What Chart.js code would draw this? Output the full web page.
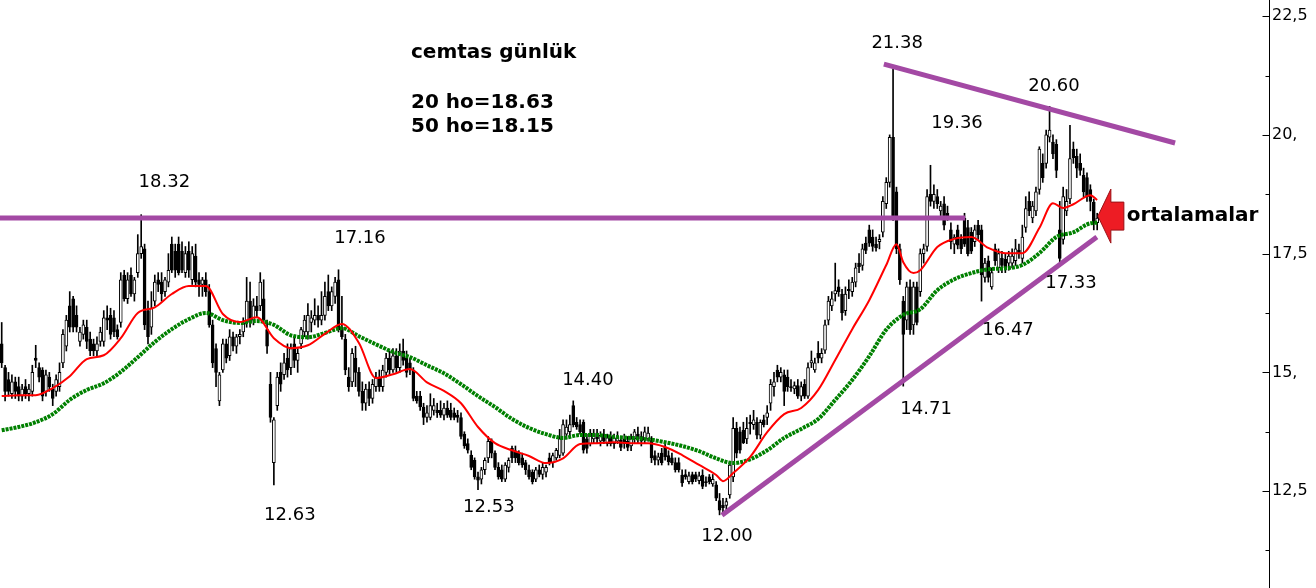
<!DOCTYPE html>
<html>
<head>
<meta charset="utf-8">
<title>cemtas günlük</title>
<script src="https://cdn.jsdelivr.net/npm/chart.js@4.4.1/dist/chart.umd.min.js"></script>
<style>
  html, body { margin: 0; padding: 0; background: #fff; overflow: hidden; }
  canvas { display: block; }
</style>
</head>
<body>
<canvas id="chart" width="1316" height="588"></canvas>
<script>
// ========== data ==========
// one row per day: [open, high, low, close]
const candles = [
  [15.6,16.05,15.1,15.2],[15.1,15.15,14.4,14.6],[14.85,15.0,14.5,14.6],[14.55,14.95,14.45,14.8],[14.8,14.9,14.45,14.6],
  [14.7,14.9,14.4,14.5],[14.5,14.75,14.4,14.65],[14.7,14.85,14.45,14.55],[14.55,14.75,14.4,14.65],[14.6,15.15,14.5,15.0],
  [15.3,15.57,15.1,15.25],[15.1,15.2,14.8,14.9],[15.05,15.1,14.4,14.5],[14.6,15.05,14.5,14.95],[14.9,15.0,14.6,14.7],
  [14.65,14.75,14.3,14.45],[14.6,14.95,14.5,14.85],[14.7,15.2,14.6,15.0],[15.2,15.9,15.1,15.8],[15.55,16.2,15.45,16.1],
  [16.4,16.7,15.85,15.95],[16.55,16.6,15.85,15.95],[16.2,16.4,15.85,15.95],[15.65,15.95,15.55,15.85],[15.8,16.1,15.7,16.0],
  [15.95,16.1,15.5,15.65],[15.7,15.85,15.35,15.45],[15.6,15.7,15.35,15.45],[15.45,15.75,15.35,15.6],[15.65,15.95,15.55,15.85],
  [15.65,16.3,15.55,16.15],[16.15,16.4,15.9,16.1],[16.2,16.35,15.7,15.8],[16.15,16.3,15.75,15.85],[15.9,16.0,15.7,15.75],
  [16.05,17.1,15.95,16.95],[17.05,17.15,16.5,16.55],[16.55,17.1,16.45,16.95],[17.05,17.2,16.6,16.65],[16.65,17.0,16.5,16.95],
  [17.1,17.9,17.0,17.5],[17.5,18.32,17.4,17.65],[17.6,17.7,15.9,16.0],[16.3,16.5,15.6,15.75],[15.95,16.7,15.8,16.35],
  [16.5,17.05,16.4,16.9],[16.95,17.1,16.7,16.85],[16.9,17.1,16.5,16.65],[16.7,17.0,16.6,16.95],[16.9,17.5,16.8,17.15],
  [17.7,17.85,17.1,17.15],[17.55,17.7,17.0,17.15],[17.7,17.85,17.05,17.1],[17.55,17.75,17.1,17.15],[17.1,17.65,17.0,17.5],
  [17.55,17.75,17.0,17.15],[16.95,17.65,16.85,17.5],[17.45,17.7,16.8,16.9],[16.95,17.1,16.6,16.85],[16.85,17.0,16.6,16.95],
  [16.95,17.1,16.6,16.7],[16.7,16.85,15.95,16.0],[16.0,16.1,15.1,15.2],[15.5,15.6,14.7,15.0],[14.4,15.0,14.3,14.95],
  [15.05,15.7,15.0,15.6],[15.6,15.7,15.2,15.3],[15.35,15.9,15.25,15.75],[15.75,15.85,15.45,15.55],[15.55,15.8,15.4,15.75],
  [15.75,15.9,15.6,15.8],[15.85,16.15,15.75,16.05],[16.05,17.0,15.95,16.5],[16.5,16.9,15.95,16.05],[16.1,16.55,16.0,16.4],
  [16.4,16.6,16.15,16.3],[16.4,17.1,16.3,16.9],[16.55,16.95,16.05,16.1],[15.9,16.1,15.4,15.55],[14.75,15.0,13.95,14.05],
  [13.1,14.05,12.63,14.0],[14.3,15.0,14.2,14.9],[15.0,15.2,14.6,14.75],[14.95,15.4,14.85,15.2],[15.3,15.6,14.9,15.05],
  [15.1,15.6,14.95,15.5],[15.6,15.75,15.1,15.25],[15.25,15.5,15.0,15.4],[15.6,15.95,15.5,15.9],[15.85,16.2,15.75,16.1],
  [15.85,16.45,15.7,16.2],[16.05,16.3,15.85,16.15],[16.1,16.55,16.0,16.2],[16.2,16.4,15.95,16.1],[16.1,16.7,16.0,16.2],
  [16.2,16.9,16.1,16.6],[16.7,17.05,16.3,16.4],[16.4,16.8,16.3,16.7],[16.6,17.0,16.45,16.9],[16.95,17.16,15.85,15.9],
  [15.95,16.6,15.7,15.75],[15.7,15.8,14.95,15.05],[14.9,15.1,14.6,14.7],[14.8,15.5,14.7,15.4],[15.3,15.55,14.7,15.0],
  [15.0,15.1,14.5,14.6],[14.6,14.8,14.2,14.35],[14.35,14.75,14.2,14.65],[14.65,14.8,14.3,14.45],[14.45,14.85,14.35,14.75],
  [14.7,15.0,14.6,14.9],[14.9,15.05,14.6,14.7],[14.7,15.15,14.6,15.05],[15.0,15.4,14.9,15.3],[15.3,15.45,14.95,15.05],
  [15.05,15.5,15.0,15.35],[15.35,15.5,15.0,15.1],[15.1,15.6,15.0,15.45],[15.45,15.7,15.15,15.25],[15.3,15.45,14.9,15.0],
  [15.2,15.3,14.95,15.05],[15.05,15.1,14.4,14.45],[14.5,14.6,14.35,14.4],[14.5,14.6,14.2,14.27],[14.27,14.35,13.9,14.05],
  [14.05,14.3,13.95,14.15],[14.05,14.55,14.0,14.3],[14.2,14.45,14.1,14.3],[14.2,14.35,14.05,14.15],[14.2,14.4,14.05,14.1],
  [14.1,14.35,14.0,14.25],[14.25,14.4,14.05,14.1],[14.2,14.35,14.0,14.05],[14.15,14.25,14.0,14.05],[14.1,14.2,13.95,14.05],
  [14.05,14.15,13.6,13.65],[13.7,13.75,13.4,13.45],[13.5,13.6,13.3,13.36],[13.26,13.35,12.95,13.0],[13.15,13.2,12.75,12.8],
  [12.8,12.9,12.53,12.73],[12.75,13.0,12.65,12.95],[12.95,13.2,12.85,13.15],[13.2,13.65,13.1,13.55],[13.55,13.6,13.2,13.3],
  [13.3,13.35,12.95,13.0],[13.0,13.1,12.75,12.8],[12.95,13.05,12.7,12.75],[12.75,13.1,12.7,13.05],[13.0,13.2,12.9,13.15],
  [13.4,13.45,13.1,13.2],[13.35,13.45,13.1,13.2],[13.3,13.35,13.05,13.1],[13.2,13.3,13.0,13.05],[13.1,13.15,12.85,12.95],
  [12.95,13.05,12.75,12.8],[12.9,12.95,12.65,12.7],[12.75,13.0,12.7,12.95],[12.95,13.05,12.8,12.85],[12.85,13.1,12.75,13.0],
  [12.9,13.05,12.8,13.0],[13.2,13.3,13.05,13.1],[13.1,13.3,13.0,13.25],[13.2,13.4,13.15,13.36],[13.25,13.8,13.2,13.6],
  [13.3,14.0,13.25,13.9],[13.7,14.0,13.6,13.85],[13.75,14.1,13.65,13.9],[14.3,14.4,13.85,13.9],[13.95,14.05,13.8,13.85],
  [13.9,14.0,13.7,13.75],[13.95,14.0,13.3,13.36],[13.6,13.7,13.3,13.4],[13.5,13.8,13.45,13.72],[13.6,13.8,13.5,13.7],
  [13.72,13.8,13.5,13.6],[13.55,13.75,13.45,13.68],[13.7,13.8,13.5,13.55],[13.5,13.7,13.45,13.62],[13.65,13.75,13.45,13.5],
  [13.5,13.7,13.4,13.62],[13.55,13.75,13.5,13.65],[13.57,13.65,13.35,13.42],[13.6,13.7,13.4,13.5],[13.55,13.65,13.35,13.42],
  [13.45,13.7,13.35,13.6],[13.6,13.8,13.5,13.75],[13.7,13.85,13.5,13.6],[13.65,13.75,13.45,13.55],[13.57,13.85,13.5,13.75],
  [13.6,13.85,13.55,13.72],[13.57,13.65,13.1,13.2],[13.25,13.35,13.05,13.15],[13.15,13.3,13.05,13.22],[13.3,13.4,13.05,13.1],
  [13.42,13.5,13.15,13.22],[13.25,13.35,13.05,13.12],[13.2,13.3,13.05,13.1],[13.1,13.2,12.9,12.95],[13.1,13.2,12.9,12.95],
  [12.84,12.95,12.6,12.67],[12.85,12.95,12.75,12.8],[12.7,12.9,12.65,12.82],[12.85,12.9,12.65,12.7],[12.85,12.9,12.7,12.75],
  [12.72,12.9,12.65,12.82],[12.84,12.95,12.55,12.6],[12.7,12.8,12.6,12.68],[12.8,12.85,12.65,12.7],[12.65,12.85,12.6,12.75],
  [12.63,12.7,12.3,12.35],[12.3,12.45,12.0,12.1],[12.2,12.35,12.05,12.15],[12.2,12.35,12.1,12.28],[12.42,13.1,12.35,13.05],
  [12.8,14.05,12.7,13.82],[13.82,13.95,13.2,13.3],[13.75,13.85,13.3,13.36],[13.78,13.95,13.5,13.52],[13.6,14.05,13.5,13.82],
  [13.95,14.1,13.7,13.92],[13.9,14.2,13.8,14.0],[13.95,14.05,13.6,13.68],[13.68,14.0,13.6,13.95],[14.0,14.1,13.85,13.9],
  [14.05,14.3,13.9,14.15],[14.35,14.85,14.2,14.75],[14.7,15.0,14.5,14.8],[15.05,15.15,14.8,14.9],[14.9,15.1,14.8,15.0],
  [14.95,15.05,14.3,14.6],[14.9,15.05,14.6,14.7],[14.7,14.85,14.6,14.68],[14.65,14.8,14.55,14.72],[14.72,14.85,14.45,14.5],
  [14.5,14.8,14.4,14.7],[14.75,14.85,14.45,14.5],[14.5,15.2,14.45,15.1],[15.2,15.45,15.1,15.25],[15.05,15.3,15.0,15.2],
  [15.4,15.65,15.2,15.3],[15.3,15.5,15.2,15.4],[15.47,16.1,15.4,16.0],[16.1,16.6,16.0,16.5],[16.4,16.7,16.3,16.55],
  [16.65,17.3,16.5,16.72],[16.8,16.95,16.6,16.7],[16.65,16.75,16.1,16.25],[16.3,16.8,16.2,16.65],[16.75,16.95,16.55,16.72],
  [16.7,17.0,16.6,16.9],[16.9,17.3,16.8,17.2],[17.3,17.5,17.1,17.22],[17.25,17.7,17.15,17.6],[17.72,17.85,17.5,17.57],
  [18.0,18.1,17.65,17.72],[17.85,18.0,17.55,17.65],[17.7,17.85,17.55,17.62],[17.75,17.9,17.6,17.8],[17.95,18.7,17.85,18.6],
  [18.55,19.1,18.45,19.0],[19.0,20.0,18.9,19.95],[19.95,21.38,18.2,18.27],[18.8,18.9,17.5,17.6],[17.6,17.7,16.85,16.95],
  [16.5,16.6,14.71,15.8],[16.1,16.9,15.9,16.8],[16.8,16.95,15.8,15.9],[16.0,16.9,15.8,16.8],[16.8,16.9,16.0,16.05],
  [16.7,17.6,16.6,17.5],[17.5,17.7,17.3,17.6],[17.65,18.85,17.55,18.7],[18.75,19.36,18.5,18.6],[18.6,18.95,18.45,18.75],
  [18.7,18.85,18.45,18.55],[18.4,18.6,18.3,18.5],[18.55,18.7,18.0,18.1],[18.35,18.5,18.2,18.3],[18.0,18.15,17.6,17.75],
  [17.7,17.9,17.5,17.85],[18.0,18.1,17.6,17.68],[17.8,17.9,17.5,17.6],[18.25,18.35,17.65,17.7],[18.05,18.2,17.45,17.5],
  [17.95,18.05,17.5,17.55],[17.75,18.1,17.65,18.0],[18.1,18.2,17.8,17.9],[18.0,18.1,16.5,17.05],[17.0,17.4,16.9,17.3],
  [17.35,17.45,16.9,17.0],[16.8,17.2,16.75,17.1],[17.6,17.7,17.25,17.35],[17.2,17.6,17.1,17.5],[17.4,17.55,17.1,17.25],
  [17.38,17.5,17.1,17.2],[17.3,17.55,17.15,17.45],[17.3,17.6,17.2,17.45],[17.35,17.8,17.25,17.6],[17.57,17.7,17.4,17.5],
  [17.4,18.1,17.3,17.85],[18.05,18.7,17.95,18.45],[18.6,18.8,18.3,18.4],[18.25,18.6,18.15,18.5],[18.4,18.9,18.3,18.8],
  [18.85,19.75,18.75,19.7],[19.4,19.6,19.0,19.1],[19.4,20.1,19.3,20.0],[19.95,20.6,19.85,20.1],[19.85,20.0,19.5,19.6],
  [19.8,19.9,19.1,19.25],[18.0,18.6,17.33,17.4],[17.8,18.9,17.7,18.7],[18.4,18.85,18.3,18.6],[18.65,20.2,18.55,19.5],
  [19.7,19.85,19.4,19.52],[19.55,19.7,19.1,19.3],[19.4,19.6,19.15,19.25],[19.15,19.3,18.7,18.8],[19.1,19.2,18.6,18.7],
  [18.85,18.95,18.4,18.6],[18.58,18.65,18.0,18.14],[18.15,18.35,18.0,18.25]
]

// 20 and 50 day moving averages, read at [day, value]
const ma20 = [
  [0,14.5],[5,14.52],[10,14.52],[15,14.67],[20,14.92],[25,15.28],[30,15.36],[35,15.72],[40,16.25],[45,16.37],
  [50,16.65],[55,16.82],[60,16.82],[65,16.23],[70,16.06],[75,16.16],[80,15.72],[85,15.51],[90,15.57],[95,15.81],
  [100,16.02],[105,15.62],[110,14.88],[115,14.96],[120,15.07],[125,14.79],[130,14.61],[135,14.35],[140,13.85],[145,13.51],
  [150,13.36],[155,13.24],[160,13.09],[165,13.19],[170,13.49],[175,13.51],[180,13.53],[185,13.51],[190,13.51],[195,13.43],
  [200,13.26],[205,13.05],[210,12.84],[212,12.71],[215,12.88],[220,13.22],[225,13.74],[230,14.12],[235,14.25],[240,14.63],
  [245,15.26],[250,15.91],[255,16.52],[260,17.26],[263,17.7],[265,17.32],[268,17.09],[270,17.15],[275,17.64],[280,17.81],
  [285,17.85],[290,17.62],[295,17.51],[300,17.51],[305,18.04],[309,18.56],[312,18.46],[315,18.54],[320,18.73],[322,18.63]
]
const ma50 = [
  [0,13.78],[5,13.85],[10,13.95],[15,14.12],[20,14.42],[25,14.63],[30,14.77],[35,15.01],[40,15.32],[45,15.64],
  [50,15.91],[55,16.12],[60,16.25],[65,16.1],[70,16.04],[75,16.08],[80,16.0],[85,15.78],[90,15.74],[95,15.83],
  [100,15.93],[105,15.76],[110,15.59],[115,15.43],[120,15.32],[125,15.15],[130,14.98],[135,14.75],[140,14.5],[145,14.27],
  [150,14.02],[155,13.83],[160,13.7],[165,13.62],[170,13.68],[175,13.68],[180,13.64],[185,13.62],[190,13.59],[195,13.53],
  [200,13.45],[205,13.34],[210,13.19],[215,13.09],[220,13.17],[225,13.36],[230,13.62],[235,13.81],[240,14.02],[245,14.42],
  [250,14.84],[255,15.34],[260,15.9],[265,16.21],[270,16.33],[275,16.73],[280,16.96],[285,17.09],[290,17.17],[295,17.19],
  [300,17.26],[305,17.51],[310,17.85],[315,17.95],[320,18.14],[322,18.15]
]

const yTickValues = [12.5, 15, 17.5, 20, 22.5]
const yTickLabels = ['12,5', '15,', '17,5', '20,', '22,5']
const yMinorTicks = [11.25, 13.75, 16.25, 18.75, 21.25]

const titleLines = ['cemtas günlük', '20 ho=18.63', '50 ho=18.15']
// price notes: [text, day, price where the text sits]
const priceNotes = [
  ['18.32', 47.8, 19.0], ['17.16', 105.3, 17.83], ['12.63', 84.7, 11.99], ['12.53', 143.2, 12.16],
  ['14.40', 172.3, 14.84], ['12.00', 213.2, 11.55], ['21.38', 263.2, 21.93], ['19.36', 280.8, 20.25],
  ['20.60', 309.3, 21.03], ['17.33', 314.3, 16.88], ['16.47', 295.8, 15.89], ['14.71', 271.7, 14.23]
]
// hand drawn lines: [day1, price1, day2, price2]
const trendLines = [
  [-0.5, 18.25, 283.2, 18.25],
  [259.3, 21.49, 344.9, 19.83],
  [211.7, 11.99, 321.9, 17.85]
]
const arrowTip = [322.2, 18.29]
const arrowText = 'ortalamalar'

const slotCount = 373
const purple = '#a349a4'

// ========== overlay: axis ticks, trend lines, texts ==========
const overlay = {
  id: 'overlay',
  afterDraw(chart) {
    const ctx = chart.ctx
    const xs = chart.scales.x
    const ys = chart.scales.y
    const area = chart.chartArea
    ctx.save()

    // right axis line and tick marks
    const ax = Math.round(area.right) + 0.5
    ctx.strokeStyle = '#000'
    ctx.lineWidth = 1
    ctx.beginPath()
    ctx.moveTo(ax, 0)
    ctx.lineTo(ax, chart.height)
    yTickValues.forEach(v => {
      const py = Math.round(ys.getPixelForValue(v)) + 0.5
      ctx.moveTo(ax - 7, py)
      ctx.lineTo(ax, py)
    })
    yMinorTicks.forEach(v => {
      const py = Math.round(ys.getPixelForValue(v)) + 0.5
      ctx.moveTo(ax - 4, py)
      ctx.lineTo(ax, py)
    })
    ctx.stroke()

    // purple trend lines
    ctx.strokeStyle = purple
    ctx.lineWidth = 5
    trendLines.forEach(t => {
      ctx.beginPath()
      ctx.moveTo(xs.getPixelForValue(t[0]), ys.getPixelForValue(t[1]))
      ctx.lineTo(xs.getPixelForValue(t[2]), ys.getPixelForValue(t[3]))
      ctx.stroke()
    })

    // red arrow + label
    const tx = xs.getPixelForValue(arrowTip[0])
    const ty = ys.getPixelForValue(arrowTip[1])
    ctx.beginPath()
    ctx.moveTo(tx, ty)
    ctx.lineTo(tx + 13, ty - 27)
    ctx.lineTo(tx + 13, ty - 14)
    ctx.lineTo(tx + 26, ty - 14)
    ctx.lineTo(tx + 26, ty + 14)
    ctx.lineTo(tx + 13, ty + 14)
    ctx.lineTo(tx + 13, ty + 27)
    ctx.closePath()
    ctx.fillStyle = '#ed1c24'
    ctx.fill()
    ctx.strokeStyle = '#9a1015'
    ctx.lineWidth = 1
    ctx.stroke()

    ctx.fillStyle = '#000'
    ctx.font = 'bold 20px "DejaVu Sans"'
    ctx.textAlign = 'left'
    ctx.textBaseline = 'middle'
    ctx.fillText(arrowText, tx + 29, ty)

    // title block
    ctx.textBaseline = 'alphabetic'
    ctx.fillText(titleLines[0], 411, 58)
    ctx.fillText(titleLines[1], 411, 108)
    ctx.fillText(titleLines[2], 411, 132)

    // price notes
    ctx.font = '18px "DejaVu Sans"'
    ctx.textAlign = 'center'
    ctx.textBaseline = 'middle'
    priceNotes.forEach(n => {
      ctx.fillText(n[0], xs.getPixelForValue(n[1]), ys.getPixelForValue(n[2]))
    })
    ctx.restore()
  }
}

// ========== build chart ==========
const labels = []
for (let i = 0; i < slotCount; i++) labels.push(i)

const bodies = candles.map(c => {
  const lo = Math.min(c[0], c[3])
  let hi = Math.max(c[0], c[3])
  if (hi - lo < 0.02) hi = lo + 0.02
  return [lo, hi]
})
const bodyColors = candles.map(c => c[3] >= c[0] ? '#ffffff' : '#000000')
const wicks = candles.map(c => [c[2], c[1]])

new Chart(document.getElementById('chart'), {
  type: 'bar',
  data: {
    labels: labels,
    datasets: [
      {
        type: 'line',
        data: ma20.map(p => ({ x: p[0], y: p[1] })),
        borderColor: '#ff0000',
        borderWidth: 2,
        pointRadius: 0,
        cubicInterpolationMode: 'monotone'
      },
      {
        type: 'line',
        data: ma50.map(p => ({ x: p[0], y: p[1] })),
        borderColor: '#008000',
        borderWidth: 4,
        borderDash: [3, 1],
        pointRadius: 0,
        cubicInterpolationMode: 'monotone'
      },
      {
        data: bodies,
        backgroundColor: bodyColors,
        borderColor: '#000',
        borderWidth: 1,
        borderSkipped: false,
        barThickness: 3,
        grouped: false
      },
      {
        data: wicks,
        backgroundColor: '#000',
        borderWidth: 0,
        barThickness: 1,
        grouped: false
      }
    ]
  },
  options: {
    responsive: false,
    animation: false,
    devicePixelRatio: 1,
    layout: { padding: 0 },
    plugins: { legend: { display: false }, tooltip: { enabled: false } },
    events: [],
    scales: {
      x: { display: false, offset: true },
      y: {
        position: 'right',
        min: 10.46,
        max: 22.84,
        grid: { display: false, drawTicks: false },
        border: { display: false },
        afterBuildTicks: s => { s.ticks = yTickValues.map(v => ({ value: v })) },
        afterFit: s => { s.width = 47; s.paddingTop = 0; s.paddingBottom = 0 },
        ticks: {
          padding: 3,
          color: '#000',
          font: { family: 'DejaVu Sans', size: 16 },
          callback: v => yTickLabels[yTickValues.indexOf(v)]
        }
      }
    }
  },
  plugins: [overlay]
})
</script>
</body>
</html>
